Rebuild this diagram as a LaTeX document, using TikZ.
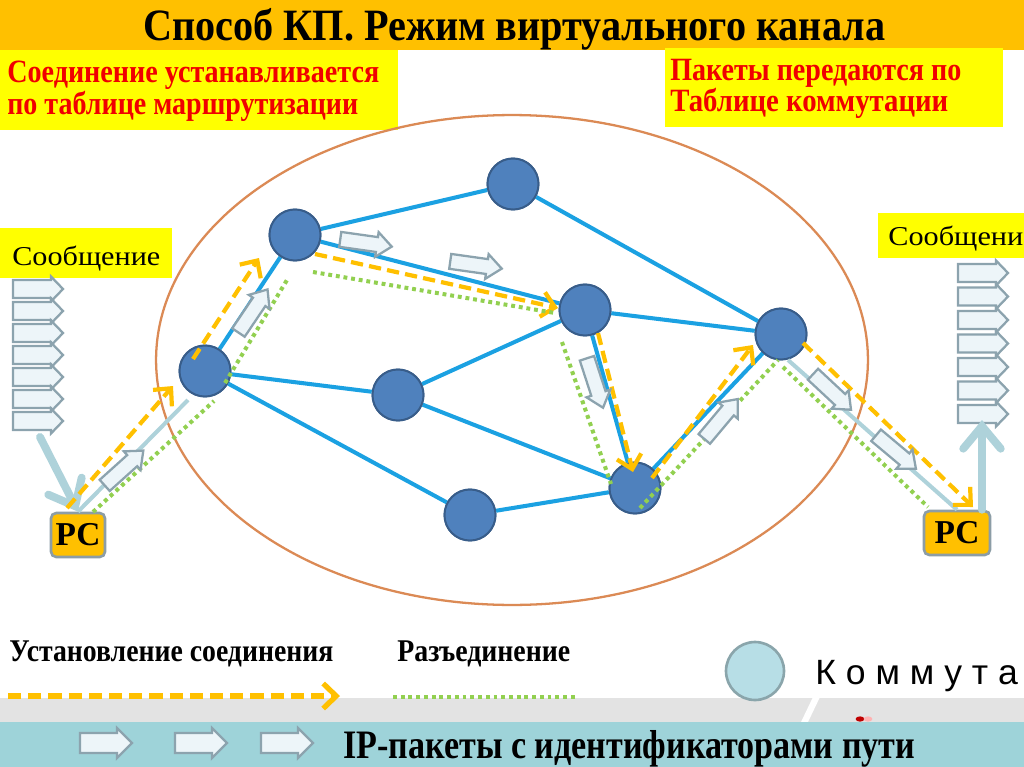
\documentclass[tikz,border=0pt]{standalone}
\usepackage{fontspec}
\setmainfont{Liberation Serif}
\newfontfamily\sansf{Liberation Sans}
\usepackage{graphicx}
\usetikzlibrary{arrows.meta,calc}
\definecolor{titleor}{HTML}{FFC000}
\definecolor{yel}{HTML}{FFFF00}
\definecolor{redt}{HTML}{F00000}
\definecolor{ellc}{HTML}{DB8A55}
\definecolor{ndfill}{HTML}{4F81BD}
\definecolor{ndline}{HTML}{385D8A}
\definecolor{edgec}{HTML}{1BA1E2}
\definecolor{orc}{HTML}{FFC000}
\definecolor{grc}{HTML}{92D050}
\definecolor{lbc}{HTML}{AED2DA}
\definecolor{pktfill}{HTML}{EDF5F9}
\definecolor{pktline}{HTML}{8CA3AE}
\definecolor{pcb}{HTML}{8C9DA6}
\definecolor{legc}{HTML}{B7DEE6}
\definecolor{legb}{HTML}{8AA5AB}
\definecolor{grayb}{HTML}{E3E3E3}
\definecolor{tealb}{HTML}{9ED3D9}
\newcommand{\fitx}[2]{\resizebox{#1}{\height}{#2}}
\begin{document}
\begin{tikzpicture}[x=0.02cm,y=-0.02cm,
  ybox/.style={fill=yel, inner sep=0, anchor=north west},
  txt/.style={anchor=base west, inner sep=0},
  nd/.style={circle, fill=ndfill, draw=ndline, line width=1.1pt, minimum size=1.02cm, inner sep=0},
  edge/.style={draw=edgec, line width=2.3pt},
  orline/.style={draw=orc, line width=2.4pt, dash pattern=on 7pt off 3.5pt, -{Straight Barb[length=2.6mm,width=5mm]}},
  grline/.style={draw=grc, line width=2.3pt, dash pattern=on 2.2pt off 2.2pt},
  lbline/.style={draw=lbc, line width=2.3pt},
  bigarr/.style={draw=lbc, line width=4.5pt, line cap=round, -{Straight Barb[length=4.5mm,width=7.5mm,line cap=round]}},
  pcbox/.style={rounded corners=3pt, fill=titleor, draw=pcb, line width=1.5pt, inner sep=0, font=\fontsize{19}{19}\selectfont\bfseries},
  pktstyle/.style={fill=pktfill, draw=pktline, line width=1.3pt, line join=miter},
  pics/pkt/.style={code={\draw[pktstyle] (-26,-7.5) -- (11,-7.5) -- (11,-12.5) -- (26,0) -- (11,12.5) -- (11,7.5) -- (-26,7.5) -- cycle;}},
  pics/bigpkt/.style={code={\draw[pktstyle] (-26,-10) -- (11,-10) -- (11,-15) -- (26,0) -- (11,15) -- (11,10) -- (-26,10) -- cycle;}},
  pics/msg/.style={code={\draw[pktstyle] (0,-9) -- (38,-9) -- (38,-12.5) -- (50,0) -- (38,12.5) -- (38,9) -- (0,9) -- cycle;}}
]
\useasboundingbox (0,0) rectangle (1024,767);
% title bar
\fill[titleor] (0,0) rectangle (1024,50);
\node[txt] (title) at (143,41) {\fitx{14.84cm}{\fontsize{25.5}{26}\selectfont\bfseries Способ КП. Режим виртуального канала}};
% info boxes
\node[ybox, minimum width=7.96cm, minimum height=1.6cm] (boxL) at (0,50) {};
\node[txt, text=redt] (boxL1) at (7,83) {\fitx{7.44cm}{\fontsize{18.5}{19}\selectfont\bfseries Соединение устанавливается}};
\node[txt, text=redt] (boxL2) at (7,114) {\fitx{7.02cm}{\fontsize{18.5}{19}\selectfont\bfseries по таблице маршрутизации}};
\node[ybox, minimum width=6.76cm, minimum height=1.58cm] (boxR) at (665,48) {};
\node[txt, text=redt] (boxR1) at (670,81) {\fitx{5.82cm}{\fontsize{18.5}{19}\selectfont\bfseries Пакеты передаются по}};
\node[txt, text=redt] (boxR2) at (670,112) {\fitx{5.56cm}{\fontsize{18.5}{19}\selectfont\bfseries Таблице коммутации}};
% network cloud
\draw[ellc, line width=1.3pt] (512,360) ellipse [x radius=7.12cm, y radius=4.9cm];
% message labels
\node[ybox, minimum width=3.44cm, minimum height=1cm] (msgLbox) at (0,228) {};
\node[txt] (msgLtxt) at (12,265) {\fitx{2.96cm}{\fontsize{15.5}{16}\selectfont Сообщение}};
\node[ybox, minimum width=2.92cm, minimum height=0.9cm] (msgRbox) at (878,213) {};
\node[txt] (msgRtxt) at (888,245) {\fitx{2.7cm}{\fontsize{15.5}{16}\selectfont Сообщени}};
% message stacks
\foreach \k in {0,...,6} { \pic at (13,289+22*\k) {msg}; }
\foreach \k in {0,...,6} { \pic at (958,273+23.5*\k) {msg}; }
% PCs
\node[pcbox, minimum width=1.08cm, minimum height=0.88cm] (pcL) at (78,535) {РС};
\node[pcbox, minimum width=1.32cm, minimum height=0.88cm] (pcR) at (957,533) {РС};
\coordinate (msgL) at (40,437);
\coordinate (msgR) at (982,420);
\draw[bigarr] (msgL) -- (pcL.north);
\draw[bigarr] (msgR |- pcR.north) -- (msgR);
% nodes
\node[nd] (A) at (205,371) {};
\node[nd] (B) at (295,235) {};
\node[nd] (C) at (513,184) {};
\node[nd] (D) at (585,310) {};
\node[nd] (E) at (398,395) {};
\node[nd] (F) at (781,334) {};
\node[nd] (G) at (470,515) {};
\node[nd] (H) at (635,488) {};
\foreach \u/\v in {A/B,B/C,C/F,B/D,D/F,A/E,E/D,A/G,E/H,G/H,D/H,H/F} { \draw[edge] (\u) -- (\v); }
\foreach \n in {A,B,C,D,E,F,G,H} { \node[nd] at (\n) {}; }
% path coordinates
\coordinate (oL1) at (67,508); \coordinate (oL2) at (173,386);
\coordinate (bL2) at (188,400);
\coordinate (gL1) at (93,512); \coordinate (gL2) at (214,401);
\coordinate (oAB1) at (193,359); \coordinate (oAB2) at (259,258);
\coordinate (gAB1) at (225,383); \coordinate (gAB2) at (287,280);
\coordinate (oBD1) at (315,254); \coordinate (oBD2) at (558,308);
\coordinate (gBD1) at (313,272); \coordinate (gBD2) at (555,313);
\coordinate (oDH1) at (598,333); \coordinate (oDH2) at (633,472);
\coordinate (gDH1) at (562,342); \coordinate (gDH2) at (611,484);
\coordinate (oHF1) at (652,478); \coordinate (oHF2) at (753,345);
\coordinate (gHF1) at (640,508); \coordinate (gHF2) at (778,360);
\coordinate (oFR1) at (803,343); \coordinate (oFR2) at (973,507);
\coordinate (bFR1) at (788,360);
\coordinate (gFR1) at (783,367); \coordinate (gFR2) at (928,507);
% light blue access lines
\draw[lbline] (pcL.north) -- (bL2);
\draw[lbline] (bFR1) -- (pcR.north);
% setup (orange) and release (green)
\draw[orline] (oL1) -- (oL2);
\draw[orline] (oAB1) -- (oAB2);
\draw[orline] (oBD1) -- (oBD2);
\draw[orline] (oDH1) -- (oDH2);
\draw[orline] (oHF1) -- (oHF2);
\draw[orline] (oFR1) -- (oFR2);
\draw[grline] (gL1) -- (gL2);
\draw[grline] (gAB1) -- (gAB2);
\draw[grline] (gBD1) -- (gBD2);
\draw[grline] (gDH1) -- (gDH2);
\draw[grline] (gHF1) -- (gHF2);
\draw[grline] (gFR1) -- (gFR2);
% packets
\pic[rotate=42] at (124,468) {pkt};
\pic[rotate=56] at (253,311) {pkt};
\pic[rotate=-8] at (366,243) {pkt};
\pic[rotate=-8] at (476,265) {pkt};
\pic[rotate=-72] at (595,383) {pkt};
\pic[rotate=50] at (721,419) {pkt};
\pic[rotate=-43] at (832,392) {pkt};
\pic[rotate=-40] at (896,452) {pkt};
% legend
\node[txt] (lg1) at (9,661) {\fitx{6.48cm}{\fontsize{18}{18}\selectfont\bfseries Установление соединения}};
\node[txt] (lg2) at (397,661) {\fitx{3.46cm}{\fontsize{18}{18}\selectfont\bfseries Разъединение}};
\fill[grayb] (0,698) rectangle (1024,722);
\fill[white] (813,697) -- (820,697) -- (808,722) -- (801,722) -- cycle;
\fill[tealb] (0,722) rectangle (1024,767);
\fill[red!75!black] (860,719) ellipse [x radius=2.5pt, y radius=1.5pt];
\fill[red!30] (868,719) ellipse [x radius=2.5pt, y radius=1.5pt];
\coordinate (lgO1) at (8,696); \coordinate (lgO2) at (340,696);
\coordinate (lgG1) at (393,697); \coordinate (lgG2) at (575,697);
\draw[orline, line width=3pt, dash pattern=on 7.5pt off 4pt] (lgO1) -- (lgO2);
\draw[grline] (lgG1) -- (lgG2);
\node[circle, fill=legc, draw=legb, line width=1.5pt, minimum size=1.16cm, inner sep=0] (legsw) at (755,671) {};
\node[txt] (legswt) at (815,684) {\fitx{4.05cm}{\sansf\fontsize{20}{20}\selectfont К о м м у т а}};
\pic at (106,743) {bigpkt};
\pic at (201,743) {bigpkt};
\pic at (287,743) {bigpkt};
\node[txt] (ipt) at (343,758) {\fitx{11.44cm}{\fontsize{23}{24}\selectfont\bfseries IP-пакеты с идентификаторами пути}};
\end{tikzpicture}
\end{document}
